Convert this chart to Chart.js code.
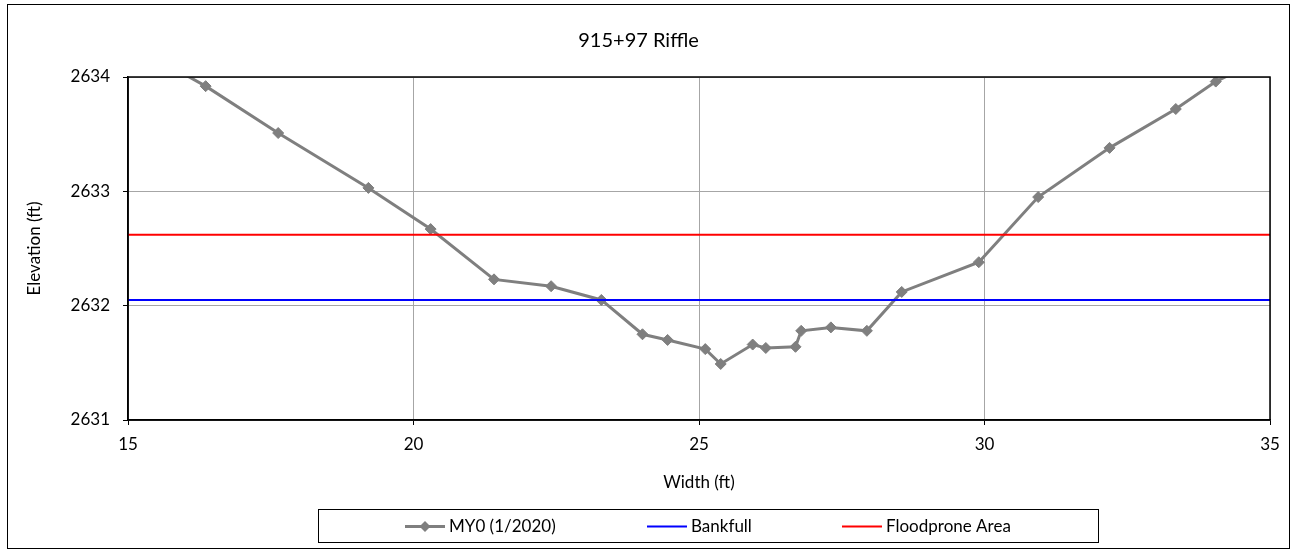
<!DOCTYPE html>
<html><head><meta charset="utf-8">
<script src="https://cdn.jsdelivr.net/npm/chart.js@4/dist/chart.umd.min.js"></script>
<style>html,body{margin:0;padding:0;background:#fff;}canvas{display:block;}</style>
</head><body>
<canvas id="c" width="1296" height="551"></canvas>
<script>
const chartTitle = '915+97 Riffle';
const xTitle = 'Width (ft)';
const yTitle = 'Elevation (ft)';
const seriesNames = ['MY0 (1/2020)', 'Bankfull', 'Floodprone Area'];
const widthFt = [15.5, 16.36, 17.63, 19.21, 20.30, 21.41, 22.41, 23.29, 24.01, 24.45, 25.11, 25.38, 25.94, 26.17, 26.69, 26.79, 27.31, 27.94, 28.55, 29.90, 30.94, 32.19, 33.35, 34.05, 34.7];
const elevFt = [2634.16, 2633.92, 2633.51, 2633.03, 2632.67, 2632.23, 2632.17, 2632.05, 2631.75, 2631.70, 2631.62, 2631.49, 2631.66, 2631.63, 2631.64, 2631.78, 2631.81, 2631.78, 2632.12, 2632.38, 2632.95, 2633.38, 2633.72, 2633.96, 2634.12];
const bankfullX = [15, 35];
const bankfullY = [2632.05, 2632.05];
const floodX = [15, 35];
const floodY = [2632.62, 2632.62];
const xRange = [15, 35, 5];
const yRange = [2631, 2634, 1];

const FONT = 'Lato';
const toPts = (xs, ys) => xs.map((x, i) => ({x: x, y: ys[i]}));

const framePlugin = {
  id: 'frame',
  beforeDraw(chart) {
    const ctx = chart.ctx;
    ctx.save();
    ctx.fillStyle = '#fff';
    ctx.fillRect(0, 0, chart.width, chart.height);
    ctx.restore();
  },
  afterDraw(chart) {
    const ctx = chart.ctx;
    const a = chart.chartArea;
    ctx.save();
    ctx.strokeStyle = '#000';
    ctx.lineWidth = 1.5;
    ctx.strokeRect(a.left, a.top, a.right - a.left, a.bottom - a.top);
    ctx.lineWidth = 1;
    ctx.strokeStyle = '#000';
    ctx.strokeRect(7.5, 4.5, 1282, 544);
    // legend box
    const bx = 318.5, by = 509.5, bw = 780, bh = 33;
    ctx.strokeRect(bx, by, bw, bh);
    ctx.font = '17px ' + FONT;
    ctx.textBaseline = 'middle';
    ctx.fillStyle = '#000';
    const ds = chart.data.datasets;
    const order = [2, 0, 1];
    const starts = [405, 647, 842];
    const lineLen = 40, gapTxt = 4;
    const cy = by + bh / 2 + 0.5;
    order.forEach((i, k) => {
      const d = ds[i];
      const x = starts[k];
      ctx.strokeStyle = d.borderColor;
      ctx.lineWidth = d.borderWidth;
      ctx.beginPath();
      ctx.moveTo(x, cy);
      ctx.lineTo(x + lineLen, cy);
      ctx.stroke();
      if (d.pointRadius > 0) {
        const r = d.pointRadius;
        ctx.fillStyle = d.pointBackgroundColor;
        ctx.beginPath();
        ctx.moveTo(x + lineLen / 2, cy - r);
        ctx.lineTo(x + lineLen / 2 + r, cy);
        ctx.lineTo(x + lineLen / 2, cy + r);
        ctx.lineTo(x + lineLen / 2 - r, cy);
        ctx.closePath();
        ctx.fill();
      }
      ctx.fillStyle = '#000';
      ctx.fillText(d.label, x + lineLen + gapTxt, cy);
    });
    ctx.restore();
  }
};

new Chart(document.getElementById('c'), {
  type: 'scatter',
  data: {
    datasets: [
      {label: seriesNames[1], data: toPts(bankfullX, bankfullY), showLine: true, borderColor: '#0000FF', backgroundColor: '#0000FF', borderWidth: 2, pointRadius: 0, pointBackgroundColor: '#0000FF'},
      {label: seriesNames[2], data: toPts(floodX, floodY), showLine: true, borderColor: '#FF0000', backgroundColor: '#FF0000', borderWidth: 2, pointRadius: 0, pointBackgroundColor: '#FF0000'},
      {label: seriesNames[0], data: toPts(widthFt, elevFt), showLine: true, borderColor: '#7F7F7F', backgroundColor: '#7F7F7F', borderWidth: 3, pointStyle: 'rectRot', pointRadius: 5.5, pointBackgroundColor: '#7F7F7F', pointBorderColor: '#7F7F7F', pointBorderWidth: 1}
    ]
  },
  options: {
    responsive: false,
    animation: false,
    devicePixelRatio: 1,
    layout: {padding: {left: 7, right: 26, top: 0, bottom: 41}},
    plugins: {
      legend: {display: false},
      tooltip: {enabled: false},
      title: {display: true, text: chartTitle, color: '#000', font: {family: FONT, size: 20, weight: 'normal'}, padding: {top: 29, bottom: 24}}
    },
    scales: {
      x: {
        type: 'linear', min: xRange[0], max: xRange[1],
        afterFit(s) { s.height = 90; },
        ticks: {stepSize: xRange[2], color: '#000', font: {family: FONT, size: 17}, padding: 9, maxRotation: 0},
        grid: {color: '#A6A6A6', lineWidth: 1, drawTicks: true, tickLength: 5, tickColor: '#000', tickWidth: 1},
        border: {display: true, color: '#000', width: 1.5},
        title: {display: true, text: xTitle, color: '#000', font: {family: FONT, size: 17}, padding: {top: 0, bottom: 17}}
      },
      y: {
        type: 'linear', min: yRange[0], max: yRange[1],
        afterFit(s) { s.width = 121; },
        ticks: {stepSize: yRange[2], color: '#000', font: {family: FONT, size: 17}, padding: 13, callback: v => String(v)},
        grid: {color: '#A6A6A6', lineWidth: 1, drawTicks: true, tickLength: 5, tickColor: '#000', tickWidth: 1},
        border: {display: true, color: '#000', width: 1.5},
        title: {display: true, text: yTitle, color: '#000', font: {family: FONT, size: 17}, padding: {top: 17, bottom: 0}}
      }
    }
  },
  plugins: [framePlugin]
});
</script>
</body></html>
